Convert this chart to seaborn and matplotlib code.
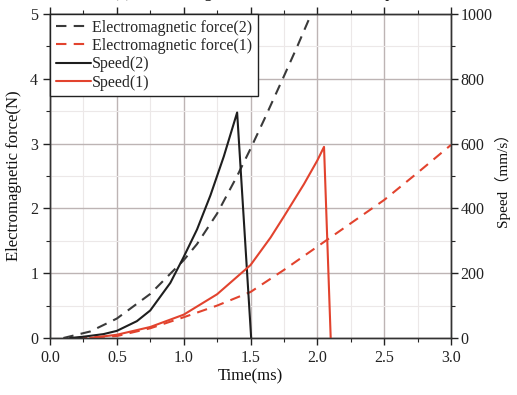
import numpy as np
import pandas as pd
import matplotlib
matplotlib.use("Agg")
import matplotlib.pyplot as plt
import seaborn as sns
from matplotlib.ticker import MultipleLocator, FormatStrFormatter

# ---- data ----
t_em2 = [0.10, 0.30, 0.50, 0.75, 1.00, 1.10, 1.25, 1.40, 1.50, 1.60, 1.75, 1.85, 1.95, 2.00]
f_em2 = [0.00, 0.10, 0.30, 0.68, 1.20, 1.45, 1.92, 2.50, 2.92, 3.36, 4.04, 4.50, 4.98, 5.22]

t_em1 = [0.20, 0.50, 0.75, 1.00, 1.25, 1.50, 1.75, 2.00, 2.25, 2.50, 2.75, 3.00]
f_em1 = [0.00, 0.03, 0.15, 0.32, 0.50, 0.71, 1.05, 1.41, 1.77, 2.13, 2.55, 2.98]

t_sp2 = [0.15, 0.25, 0.40, 0.50, 0.65, 0.75, 0.90, 1.00, 1.10, 1.20, 1.30, 1.40, 1.505]
v_sp2 = [0, 4, 12, 22, 52, 85, 170, 250, 335, 440, 560, 696, 0]

t_sp1 = [0.30, 0.50, 0.75, 1.00, 1.25, 1.50, 1.65, 1.75, 1.90, 2.00, 2.05, 2.10]
v_sp1 = [0, 10, 34, 72, 135, 225, 310, 375, 475, 548, 590, 0]

labels = ["Electromagnetic force(2)", "Electromagnetic force(1)", "Speed(2)", "Speed(1)"]
title_text = "(a) Electromagnetic force and armature speed"

BLACK = "#1e1e1e"
RED = "#e2432e"

sns.set_theme(style="white")
plt.rcParams["font.family"] = ["Liberation Serif", "Noto Sans CJK SC"]
plt.rcParams["axes.linewidth"] = 1.0

fig = plt.figure(figsize=(5.17, 3.95), dpi=100)
ax = fig.add_axes([50 / 517, 1 - 338 / 395, 401 / 517, 324 / 395])
ax2 = ax.twinx()

df_em2 = pd.DataFrame({"t": t_em2, "v": f_em2})
df_em1 = pd.DataFrame({"t": t_em1, "v": f_em1})
df_sp2 = pd.DataFrame({"t": t_sp2, "v": v_sp2})
df_sp1 = pd.DataFrame({"t": t_sp1, "v": v_sp1})

sns.lineplot(data=df_em2, x="t", y="v", ax=ax, color="#3a3a3a", lw=1.5,
             estimator=None, sort=False, linestyle=(0, (5, 3.5)))
sns.lineplot(data=df_em1, x="t", y="v", ax=ax, color=RED, lw=1.5,
             estimator=None, sort=False, linestyle=(0, (5, 3.5)))
sns.lineplot(data=df_sp2, x="t", y="v", ax=ax2, color=BLACK, lw=1.5,
             estimator=None, sort=False)
sns.lineplot(data=df_sp1, x="t", y="v", ax=ax2, color=RED, lw=1.5,
             estimator=None, sort=False)

ax.set_xlim(0, 3.0)
ax.set_ylim(0, 5)
ax2.set_ylim(0, 1000)

ax.xaxis.set_major_locator(MultipleLocator(0.5))
ax.xaxis.set_minor_locator(MultipleLocator(0.25))
ax.yaxis.set_major_locator(MultipleLocator(1))
ax.yaxis.set_minor_locator(MultipleLocator(0.5))
ax2.yaxis.set_major_locator(MultipleLocator(200))
ax2.yaxis.set_minor_locator(MultipleLocator(100))
ax.xaxis.set_major_formatter(FormatStrFormatter("%.1f"))

ax.grid(True, which="major", color="#bdb4b4", lw=1.0)
ax.grid(True, which="minor", color="#ece8e8", lw=0.8)
ax.set_axisbelow(True)

ax.tick_params(axis="both", which="major", direction="out", length=5, width=1,
               labelsize=11.5, colors="#222222", top=True, left=True, bottom=True)
ax.tick_params(axis="both", which="minor", direction="out", length=3, width=0.8,
               top=True, left=True, bottom=True)
ax.tick_params(axis="x", which="both", top=True, labeltop=False)
ax2.tick_params(axis="y", which="major", direction="out", length=5, width=1,
                labelsize=11.5, colors="#222222", pad=2)
ax2.tick_params(axis="y", which="minor", direction="out", length=3, width=0.8)

for a in (ax, ax2):
    for s in a.spines.values():
        s.set_color("#333333")
        s.set_linewidth(1.0)

ax.set_xlabel("Time(ms)", fontsize=12, labelpad=2, color="#111111")
ax.set_ylabel("Electromagnetic force(N)", fontsize=12, labelpad=6, color="#111111")
ax2.set_ylabel("Speed（mm/s）", fontsize=11, labelpad=1, color="#111111")

handles = [ax.lines[0], ax.lines[1], ax2.lines[0], ax2.lines[1]]
leg = ax2.legend(handles, labels, loc="upper left", bbox_to_anchor=(0, 1),
                 borderaxespad=0, frameon=True, fancybox=False, edgecolor="#222222",
                 fontsize=11.5, handlelength=2.2, handletextpad=0.1,
                 labelspacing=0.15, borderpad=0.35, framealpha=1)
leg.get_frame().set_linewidth(1.0)

fig.text(113 / 517, 1 + 3 / 395, title_text, ha="left", va="baseline",
         fontsize=12, color="#111111")

fig.savefig("out.png", dpi=100, facecolor="white")
